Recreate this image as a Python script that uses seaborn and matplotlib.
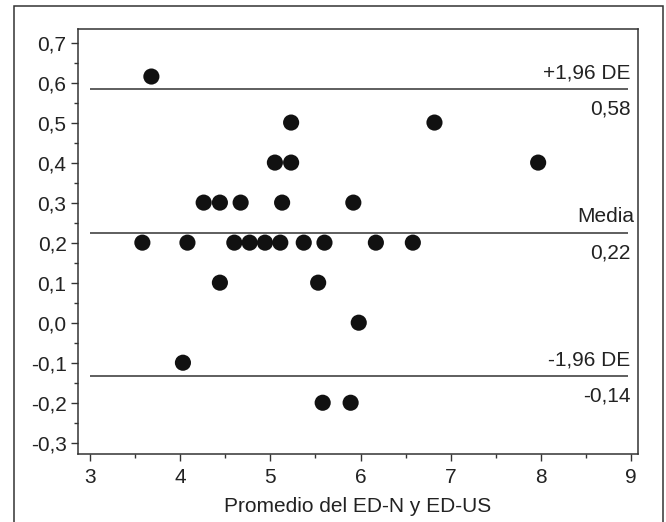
import numpy as np
import pandas as pd
import matplotlib
matplotlib.use("Agg")
import matplotlib.pyplot as plt
from matplotlib.patches import Rectangle
from matplotlib.ticker import MultipleLocator, FuncFormatter
import seaborn as sns

# Data
promedio = [3.68,
            3.58, 4.08, 4.60, 4.77, 4.94, 5.11, 5.37, 5.60, 6.17, 6.58,
            4.44, 5.53,
            4.26, 4.44, 4.67, 5.13, 5.92,
            5.05, 5.23, 7.97,
            5.23, 6.82,
            5.98,
            4.03,
            5.58, 5.89]
diferencia = [0.615,
              0.2, 0.2, 0.2, 0.2, 0.2, 0.2, 0.2, 0.2, 0.2, 0.2,
              0.1, 0.1,
              0.3, 0.3, 0.3, 0.3, 0.3,
              0.4, 0.4, 0.4,
              0.5, 0.5,
              0.0,
              -0.1,
              -0.2, -0.2]

# limits of agreement and mean difference
line_values = [0.584, 0.225, -0.134]
line_names = ["+1,96 DE", "Media", "-1,96 DE"]
line_labels = ["0,58", "0,22", "-0,14"]

df = pd.DataFrame({"promedio": promedio, "diferencia": diferencia})

sns.set_style("ticks")
plt.rcParams["font.family"] = ["Liberation Sans", "DejaVu Sans"]
plt.rcParams["font.size"] = 15

fig = plt.figure(figsize=(6.66, 5.22), dpi=100)
ax = fig.add_axes([0.1167, 0.1303, 0.842, 0.8151])

dark = "#333333"

sns.scatterplot(data=df, x="promedio", y="diferencia", ax=ax,
                color="#111111", s=135, edgecolor="none", zorder=3)

ax.hlines(line_values, 3, 8.97, color=dark, lw=1.1, zorder=2)

for val, name, lab in zip(line_values, line_names, line_labels):
    xr = 9.04 if name == "Media" else 8.995
    ax.annotate(name, (xr, val), xytext=(0, 16), textcoords="offset pixels",
                ha="right", va="center", fontsize=15, color="#222222")
    ax.annotate(lab, (8.995, val), xytext=(0, -20), textcoords="offset pixels",
                ha="right", va="center", fontsize=15, color="#222222")

ax.set_xlim(2.863, 9.083)
ax.set_ylim(-0.328, 0.735)

ax.xaxis.set_major_locator(MultipleLocator(1))
ax.xaxis.set_minor_locator(MultipleLocator(0.5))
ax.yaxis.set_major_locator(MultipleLocator(0.1))
ax.yaxis.set_minor_locator(MultipleLocator(0.05))
ax.set_yticks(np.round(np.arange(-0.3, 0.71, 0.1), 1))
ax.yaxis.set_major_formatter(FuncFormatter(lambda v, p: f"{v:.1f}".replace(".", ",")))
ax.xaxis.set_major_formatter(FuncFormatter(lambda v, p: f"{v:.0f}"))

ax.tick_params(which="major", direction="out", length=5, width=1.0, color=dark,
               labelsize=15, labelcolor="#222222", pad=3)
ax.tick_params(which="major", axis="x", pad=5)
ax.tick_params(which="minor", direction="out", length=3, width=1.0, color=dark)

for sp in ax.spines.values():
    sp.set_color(dark)
    sp.set_linewidth(1.1)

ax.set_xlabel("Promedio del ED-N y ED-US", fontsize=15, color="#222222", labelpad=7)
ax.set_ylabel("")

# outer frame of the figure (open at the bottom)
fig.patches.append(Rectangle((14 / 666, -0.1), (662.7 - 14) / 666, (522 - 5.5) / 522 + 0.1,
                             transform=fig.transFigure, fill=False,
                             edgecolor=dark, lw=1.1))

fig.savefig("out.png", dpi=100)
